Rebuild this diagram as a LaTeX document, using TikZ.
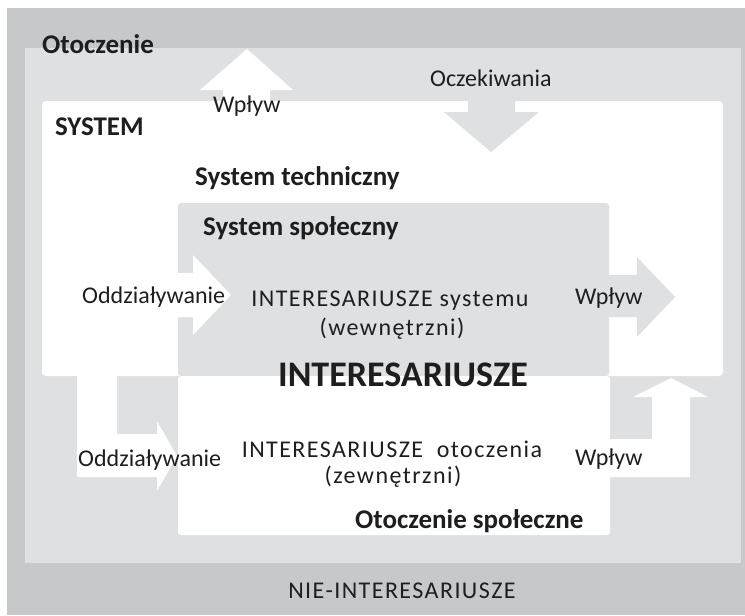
\documentclass[tikz,border=0pt]{standalone}
\usepackage{fontspec}
\setmainfont{Carlito}
\newfontfamily\trackedfont[LetterSpace=6]{Carlito}
\definecolor{outergray}{RGB}{199,200,201}
\definecolor{innergray}{RGB}{223,224,225}
\definecolor{ink}{RGB}{30,30,30}
\begin{document}
\begin{tikzpicture}[x=1pt,y=-1pt,
  lbl/.style={inner sep=0pt, anchor=base west, text=ink, font=\fontsize{24}{28}\selectfont},
  tlbl/.style={inner sep=0pt, anchor=base, text=ink, font=\fontsize{24}{28}\selectfont\trackedfont},
  blbl/.style={inner sep=0pt, anchor=base west, text=ink, font=\fontsize{27}{32}\selectfont\bfseries},
  biglbl/.style={inner sep=0pt, anchor=base, text=ink, font=\fontsize{36}{40}\selectfont\bfseries},
  whitearrow/.style={fill=white, draw=none},
  grayarrow/.style={fill=innergray, draw=none}]
\useasboundingbox (0,0) rectangle (745,616);

% environment layers
\fill[outergray] (7,8) rectangle (745,615);
\fill[innergray] (25,48) rectangle (741,563);
% SYSTEM area
\fill[white, rounded corners=4pt] (42,101) rectangle (723,376);
% social system block and its social environment below
\fill[innergray, rounded corners=3pt] (178,203) -- (609,203) -- (609,376) -- (178,376) -- cycle;
\fill[white, rounded corners=3pt] (178,376) -- (610,376) -- (610,535) -- (178,535) -- cycle;

% block arrows
\fill[whitearrow] (223,102) -- (223,90) -- (200,90) -- (247,49) -- (293,90) -- (270,90) -- (270,102) -- cycle;
\fill[grayarrow] (468,98) -- (468,112) -- (444,112) -- (491,152) -- (539,112) -- (515,112) -- (515,98) -- cycle;
\fill[whitearrow] (176,273) -- (193,273) -- (193,255) -- (231,295) -- (193,335) -- (193,317) -- (176,317) -- cycle;
\fill[grayarrow] (607,275) -- (637,275) -- (637,257) -- (675,297) -- (637,337) -- (637,317) -- (607,317) -- cycle;
\fill[whitearrow] (77,373) -- (117,373) -- (117,434) -- (157,434) -- (157,421) -- (177,456) -- (157,491) -- (157,477) -- (77,477) -- cycle;
\fill[whitearrow] (608,439) -- (652,439) -- (652,397) -- (633,397) -- (671,378) -- (708,397) -- (690,397) -- (690,477) -- (608,477) -- cycle;

% labels
\node[blbl] (otoczenie) at (42,53) {Otoczenie};
\node[blbl] (system) at (55,135) {SYSTEM};
\node[lbl] (wplywtop) at (213,112) {Wpływ};
\node[lbl] (oczekiwania) at (430,86) {Oczekiwania};
\node[blbl] (techniczny) at (195,185) {System techniczny};
\node[blbl] (spoleczny) at (203,235) {System społeczny};
\node[lbl] (oddzup) at (82,303) {Oddziaływanie};
\node[tlbl] (intsys) at (390,306) {INTERESARIUSZE systemu};
\node[tlbl] (wewn) at (392,335) {(wewnętrzni)};
\node[biglbl] (interesariusze) at (403,386) {INTERESARIUSZE};
\node[lbl] (wplywright) at (575,304) {Wpływ};
\node[lbl] (oddzlow) at (78,466) {Oddziaływanie};
\node[tlbl] (intot) at (392,457) {INTERESARIUSZE\ \ otoczenia};
\node[tlbl] (zewn) at (393,483) {(zewnętrzni)};
\node[blbl] (otspol) at (355,528) {Otoczenie społeczne};
\node[lbl] (wplywlow) at (575,465) {Wpływ};
\node[tlbl] (nieint) at (402,598) {NIE-INTERESARIUSZE};
\end{tikzpicture}
\end{document}
